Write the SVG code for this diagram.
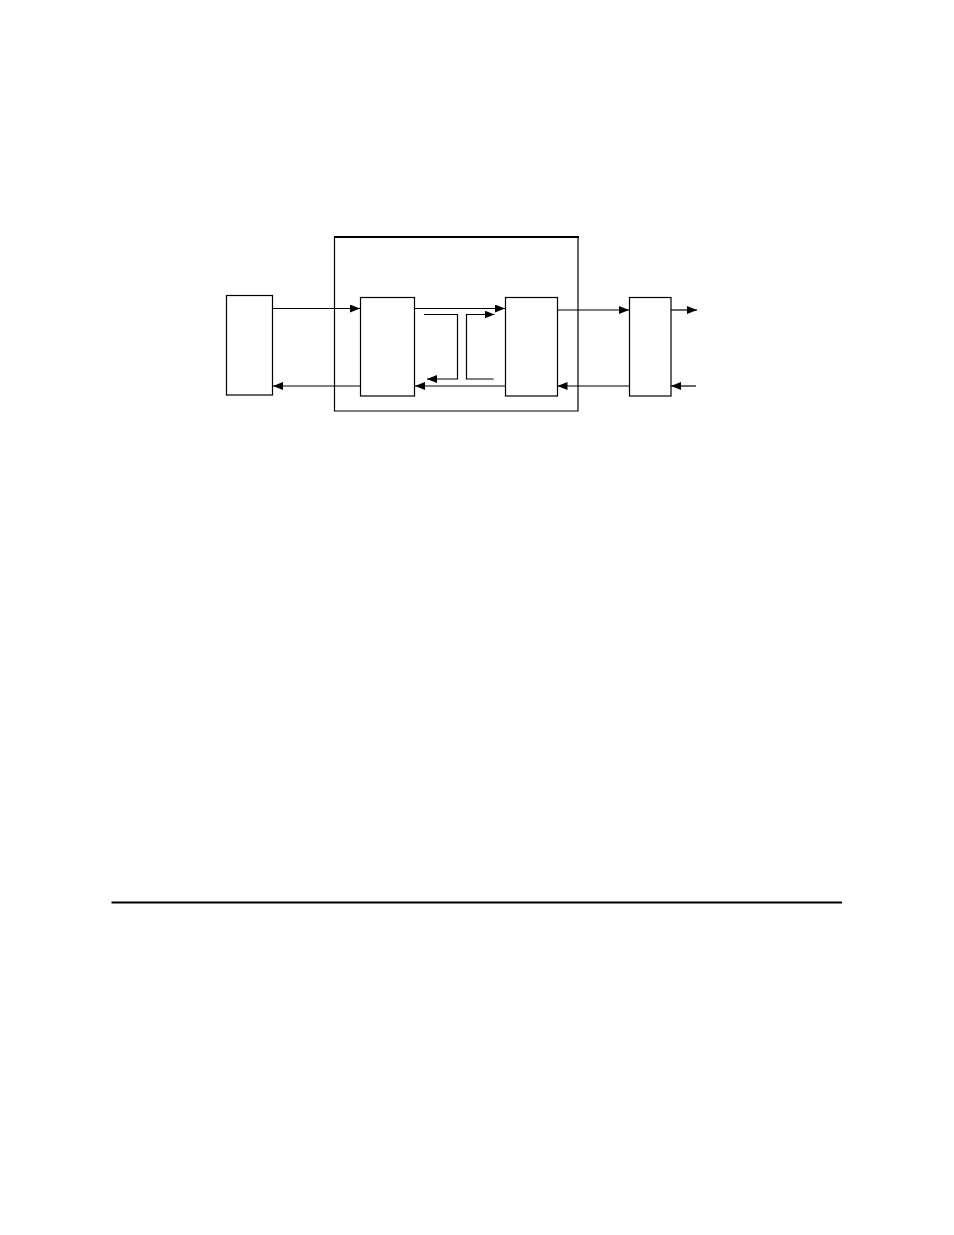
<svg xmlns="http://www.w3.org/2000/svg" width="954" height="1235" viewBox="0 0 954 1235">
<style>
.box{fill:#fff;stroke:#000;stroke-width:1.2}
.ln{fill:none;stroke:#000;stroke-width:1.2}
</style>
<defs>
<marker id="ah" markerWidth="10" markerHeight="8" refX="10" refY="4" orient="auto" markerUnits="userSpaceOnUse">
<path d="M0,0 L10,4 L0,8 Z" fill="#000"/>
</marker>
</defs>
<rect width="954" height="1235" fill="#fff"/>
<g id="outer"><path d="M334.5,411 V237 H578 V411 Z" class="box" fill="none"/><line x1="334" y1="237" x2="579" y2="237" stroke="#000" stroke-width="2"/></g>
<g id="nodeL"><rect x="226.5" y="295.5" width="46" height="99.5" class="box"/></g>
<g id="nodeA"><rect x="360.5" y="297.5" width="54" height="98.5" class="box"/></g>
<g id="nodeB"><rect x="505.5" y="297.5" width="52" height="98.5" class="box"/></g>
<g id="nodeC"><rect x="629.5" y="297.5" width="41.5" height="98.5" class="box"/></g>
<g id="connectors">
<line x1="272.5" y1="308.5" x2="360" y2="308.5" class="ln" marker-end="url(#ah)"/>
<line x1="360.5" y1="386" x2="273" y2="386" class="ln" marker-end="url(#ah)"/>
<line x1="414" y1="308.5" x2="505" y2="308.5" class="ln" marker-end="url(#ah)"/>
<polyline points="424,314.5 457.5,314.5 457.5,379 427,379" class="ln" marker-end="url(#ah)"/>
<polyline points="493.5,379 466.5,379 466.5,314.5 494.5,314.5" class="ln" marker-end="url(#ah)"/>
<line x1="505.5" y1="386" x2="415" y2="386" class="ln" marker-end="url(#ah)"/>
<line x1="557" y1="310" x2="629" y2="310" class="ln" marker-end="url(#ah)"/>
<line x1="629.5" y1="386" x2="557.5" y2="386" class="ln" marker-end="url(#ah)"/>
<line x1="671" y1="310" x2="697" y2="310" class="ln" marker-end="url(#ah)"/>
<line x1="696" y1="386" x2="671" y2="386" class="ln" marker-end="url(#ah)"/>
</g>
<line x1="111.5" y1="902.5" x2="842" y2="902.5" stroke="#000" stroke-width="2.2"/>
</svg>
